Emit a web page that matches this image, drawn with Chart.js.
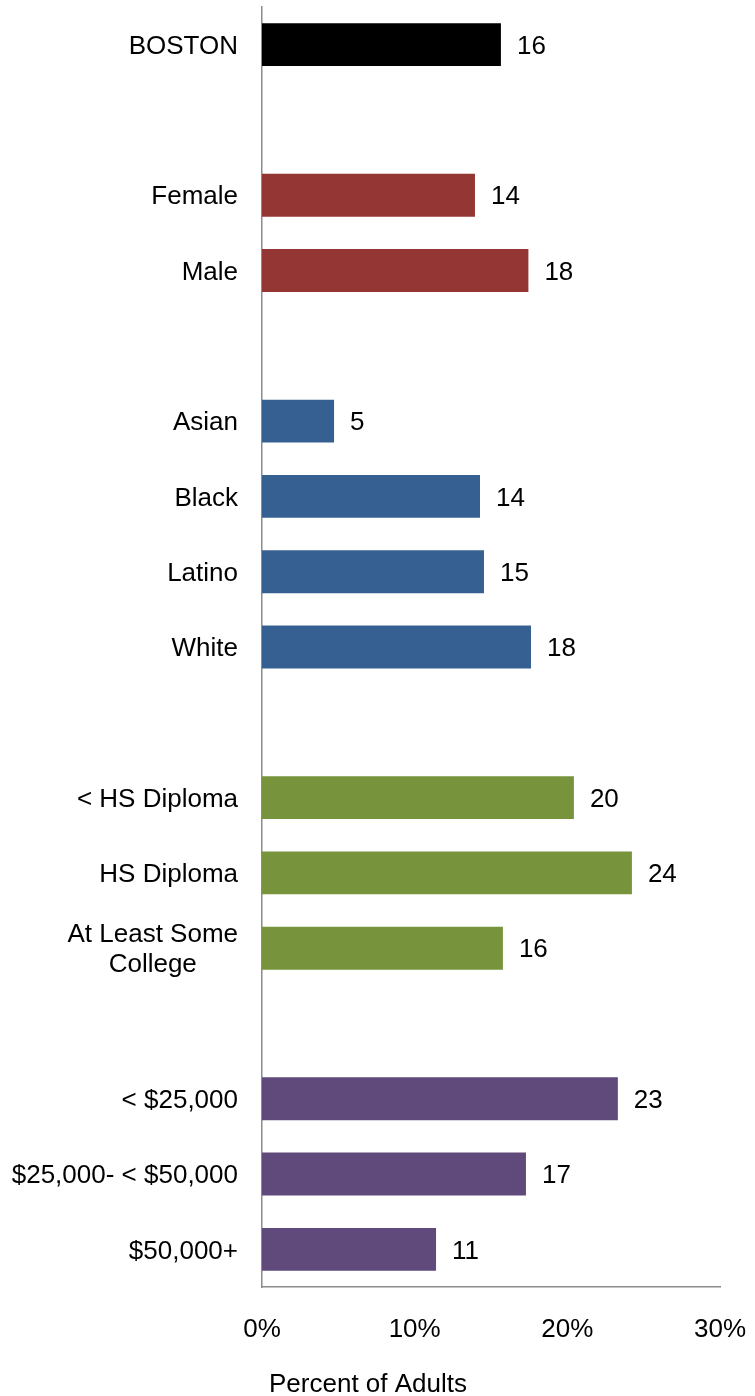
<!DOCTYPE html>
<html>
<head>
<meta charset="utf-8">
<script src="https://cdn.jsdelivr.net/npm/chart.js@4"></script>
<style>
  html, body { margin: 0; padding: 0; background: #fff; }
  #wrap { width: 755px; height: 1396px; }
</style>
</head>
<body>
<div id="wrap"><canvas id="chart" width="755" height="1396"></canvas></div>
<script>
// categories (blank entries are the gaps between groups)
const categories = ['BOSTON', '', 'Female', 'Male', '', 'Asian', 'Black', 'Latino', 'White', '',
  '< HS Diploma', 'HS Diploma', ['At Least Some', 'College'], '', '< $25,000', '$25,000- < $50,000', '$50,000+'];
const values = [15.65, null, 13.95, 17.45, null, 4.72, 14.28, 14.54, 17.62, null,
  20.43, 24.23, 15.78, null, 23.31, 17.29, 11.4];
const valueLabels = ['16', '', '14', '18', '', '5', '14', '15', '18', '',
  '20', '24', '16', '', '23', '17', '11'];
const barColors = ['#000000', null, '#943634', '#943634', null, '#366092', '#366092', '#366092', '#366092', null,
  '#77933C', '#77933C', '#77933C', null, '#604A7B', '#604A7B', '#604A7B'];
const xTicks = [0, 10, 20, 30];
const axisTitle = 'Percent of Adults';

const FAMILY = '"Liberation Sans", Arial, Helvetica, sans-serif';
const FONT = '26px ' + FAMILY;

const labelPlugin = {
  id: 'labels',
  afterDraw(chart) {
    const ctx = chart.ctx;
    const y = chart.scales.y;
    const x = chart.scales.x;
    ctx.save();
    ctx.font = FONT;
    ctx.fillStyle = '#000';
    ctx.textBaseline = 'middle';
    categories.forEach((cat, i) => {
      if (!cat || cat.length === 0) return;
      const py = y.getPixelForValue(i) + 2;
      if (Array.isArray(cat)) {
        const w = Math.max(...cat.map(t => ctx.measureText(t).width));
        ctx.textAlign = 'center';
        cat.forEach((t, k) => {
          ctx.fillText(t, 238 - w / 2, py + (k - (cat.length - 1) / 2) * 30);
        });
      } else {
        ctx.textAlign = 'right';
        ctx.fillText(cat, 238, py);
      }
      // value label
      if (values[i] != null) {
        ctx.textAlign = 'left';
        ctx.fillText(valueLabels[i], x.getPixelForValue(values[i]) + 16, py);
      }
    });
    // axis title
    ctx.textAlign = 'center';
    ctx.fillText(axisTitle, 368, 1385);
    ctx.restore();
  }
};

new Chart(document.getElementById('chart'), {
  type: 'bar',
  data: {
    labels: categories,
    datasets: [{
      data: values,
      backgroundColor: barColors,
      categoryPercentage: 1,
      barPercentage: 0.57
    }]
  },
  options: {
    indexAxis: 'y',
    responsive: false,
    animation: false,
    layout: { padding: { top: 7, right: 35, bottom: 0, left: 0 } },
    plugins: { legend: { display: false }, tooltip: { enabled: false } },
    scales: {
      x: {
        min: 0,
        max: 30,
        afterBuildTicks: scale => { scale.ticks = xTicks.map(v => ({ value: v })); },
        afterFit: scale => {
          scale.height = 109;
          scale.paddingLeft = 0;
          scale.paddingRight = 0;
        },
        grid: { display: false },
        border: { display: true, color: '#8c8c8c', width: 1.5 },
        ticks: {
          padding: 19,
          maxRotation: 0,
          color: '#000',
          font: { family: FAMILY, size: 26 },
          callback: v => v + '%'
        }
      },
      y: {
        afterFit: scale => {
          scale.width = 262;
          scale.paddingTop = 0;
          scale.paddingBottom = 0;
        },
        grid: { display: false },
        border: { display: true, color: '#8c8c8c', width: 1.5 },
        ticks: { display: false }
      }
    }
  },
  plugins: [labelPlugin]
});
</script>
</body>
</html>
